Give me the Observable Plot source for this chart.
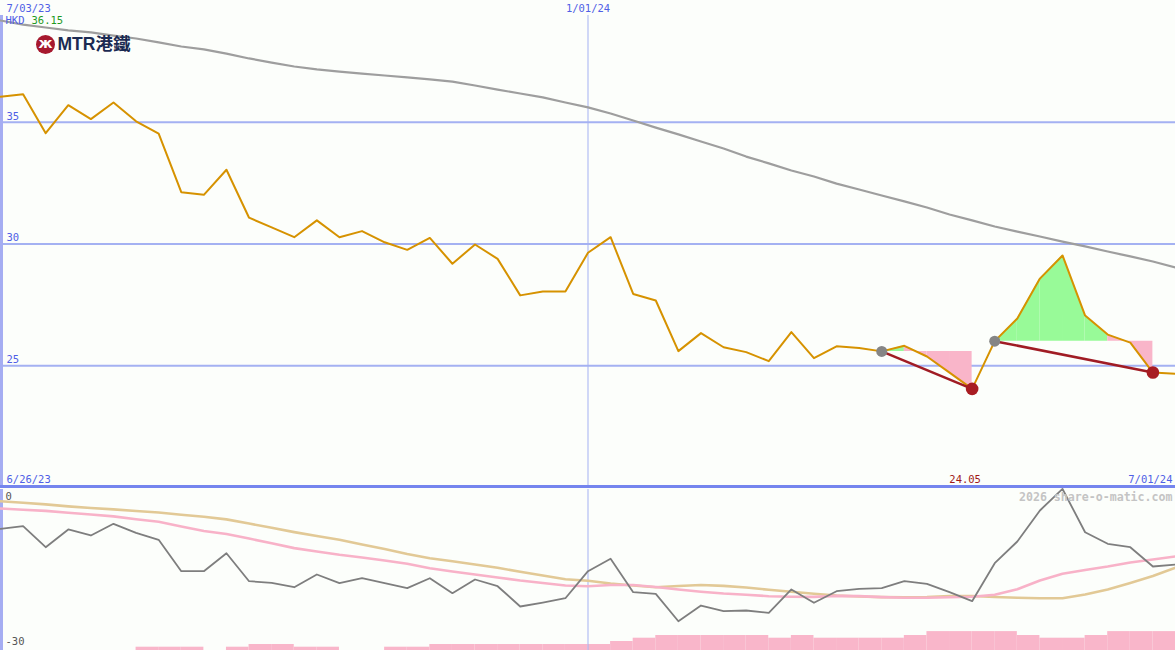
<!DOCTYPE html>
<html><head><meta charset="utf-8">
<script src="https://cdn.jsdelivr.net/npm/d3@7"></script>
<script src="https://cdn.jsdelivr.net/npm/@observablehq/plot@0.6"></script>
<style>
body{margin:0;background:#fcfefb;}
#wrap{position:relative;width:1175px;height:650px;overflow:hidden;background:#fcfefb;}
#topPanel{position:absolute;left:0;top:0;}
#botPanel{position:absolute;left:0;top:485px;border-top:3px solid #7585ee;}
svg{display:block}
</style></head><body><div id="wrap"><div id="topPanel"></div><div id="botPanel"></div></div>
<script>
// ---- data ----
const startDate = "2023-07-03";   // first weekly close
const markDate = "2024-01-01";    // vertical marker
const subStart = "2023-06-26";    // lower panel label
const priceLevels = [25, 30, 35];
const subLevels = [0, -30];
const currency = "HKD";
const watermark = "2026 share-o-matic.com";
const logoText = "MTR港鐵";

// weekly closing price (HKD)
const price = [36.05, 36.15, 34.55, 35.70, 35.13, 35.81, 35.04, 34.53, 32.13, 32.02,
  33.05, 31.08, 30.68, 30.28, 30.97, 30.28, 30.53, 30.07, 29.76, 30.25,
  29.19, 29.98, 29.39, 27.89, 28.05, 28.05, 29.64, 30.28, 27.95, 27.68,
  25.60, 26.34, 25.76, 25.56, 25.19, 26.38, 25.31, 25.80, 25.73, 25.59,
  25.82, 25.38, 24.72, 24.05, 26.01, 26.94, 28.58, 29.53, 27.06, 26.28,
  25.95, 24.72, 24.67];
// long moving average
const movingAvg = [39.18, 39.01, 38.89, 38.77, 38.69, 38.56, 38.44, 38.28, 38.11, 37.99,
  37.82, 37.62, 37.45, 37.29, 37.17, 37.08, 37.00, 36.92, 36.84, 36.76,
  36.67, 36.51, 36.34, 36.18, 36.02, 35.81, 35.61, 35.36, 35.07, 34.78,
  34.50, 34.21, 33.92, 33.59, 33.31, 33.02, 32.77, 32.48, 32.24, 31.99,
  31.75, 31.50, 31.21, 30.97, 30.72, 30.51, 30.31, 30.10, 29.90, 29.69,
  29.49, 29.28, 29.03];
// lower panel: relative performance (%)
const relPerf = [-7.32, -6.84, -10.75, -7.45, -8.57, -6.39, -8.07, -9.37, -15.22, -15.22,
  -11.87, -17.09, -17.39, -18.21, -15.84, -17.46, -16.53, -17.46, -18.39, -16.53,
  -19.32, -16.77, -18.02, -21.80, -21.06, -20.26, -15.22, -12.91, -19.14, -19.44,
  -24.54, -21.62, -22.68, -22.55, -22.98, -18.63, -21.11, -18.95, -18.50, -18.39,
  -17.09, -17.57, -19.14, -20.81, -13.73, -9.69, -3.91, 0.10, -7.96, -10.12,
  -10.75, -14.35, -13.98];
const relSlow = [-2.18, -2.46, -2.78, -3.15, -3.45, -3.71, -4.01, -4.30, -4.70, -5.09,
  -5.57, -6.34, -7.14, -7.94, -8.68, -9.35, -10.25, -11.09, -12.02, -12.82,
  -13.38, -13.98, -14.57, -15.34, -16.03, -16.73, -17.01, -17.52, -17.89, -18.21,
  -17.98, -17.80, -17.96, -18.26, -18.69, -19.04, -19.42, -19.75, -19.94, -20.05,
  -20.07, -20.03, -19.85, -19.85, -20.03, -20.16, -20.26, -20.26, -19.57, -18.63,
  -17.42, -16.12, -14.59];
const relFast = [-3.54, -3.76, -3.99, -4.32, -4.66, -5.01, -5.55, -6.02, -6.89, -7.73,
  -8.29, -9.13, -10.03, -10.92, -11.55, -12.17, -12.67, -13.23, -13.85, -14.68,
  -15.28, -15.84, -16.40, -16.96, -17.42, -17.89, -18.04, -17.80, -17.80, -18.17,
  -18.63, -19.04, -19.38, -19.62, -19.88, -19.99, -20.01, -19.83, -19.87, -20.05,
  -20.16, -20.18, -20.09, -19.98, -19.60, -18.60, -16.96, -15.71, -15.00, -14.35,
  -13.60, -13.04, -12.48];
// weekly volume (relative units), one per week interval
const volume = [0, 0, 0, 0, 0, 0, 1.1, 1.1, 1.1, 0,
  1.1, 2, 2, 1.1, 1.1, 0, 0, 1.1, 1.1, 2,
  2, 2, 2, 2, 2, 2, 2, 3, 4.1, 5,
  5, 5, 5, 5, 4.1, 5, 4.1, 4.1, 4.1, 4.1,
  5, 6.3, 6.3, 6.3, 6.3, 5, 4.1, 4.1, 5, 6.3,
  6.3, 6.3];
// swing patterns (indices of weekly closes)
const patterns = [{from: 39, to: 43}, {from: 44, to: 51}];

(function () {
const d0 = new Date(startDate + "T00:00:00Z");
const dates = price.map((_, i) => d3.utcDay.offset(d0, 7 * i));
const rows = dates.map((d, i) => ({date: d, price: price[i], ma: movingAvg[i], rel: relPerf[i], slow: relSlow[i], fast: relFast[i]}));
const xDomain = [dates[0], dates[dates.length - 1]];
const fmt = d3.utcFormat("%-m/%d/%y");
const mark = new Date(markDate + "T00:00:00Z");
const sub0 = new Date(subStart + "T00:00:00Z");
const lowIdx = d3.minIndex(price);

const areaRows = [];
patterns.forEach((p, k) => {
  const level = price[p.from];
  for (let j = p.from; j < p.to; j++) {
    const color = price[j + 1] >= level ? "#98fa98" : "#f9b5c9";
    const seg = k + "-" + j;
    areaRows.push({seg, date: dates[j], p: price[j], level, color});
    areaRows.push({seg, date: dates[j + 1], p: price[j + 1], level, color});
  }
});

const FONT = "DejaVu Sans Mono";
const BLUE = "#4f60e6";
const GRID = "#a4b1f2";

const topChart = Plot.plot({
  width: 1175, height: 488,
  marginTop: 0, marginBottom: 1, marginLeft: 0, marginRight: 0,
  x: {type: "utc", domain: xDomain, axis: null},
  y: {domain: [20, 40], axis: null},
  color: {type: "identity"},
  style: {background: "transparent", fontFamily: FONT, fontSize: "10px", overflow: "visible"},
  marks: [
    Plot.ruleY(priceLevels, {stroke: GRID, strokeWidth: 2}),
    Plot.ruleX([mark], {stroke: GRID, strokeWidth: 1, insetTop: 15}),
    Plot.ruleX([dates[0]], {stroke: "#a5adf2", strokeWidth: 5, insetTop: 15}),
    Plot.text(priceLevels, {y: d => d, frameAnchor: "left", dx: 6, dy: -6, text: d => String(d), textAnchor: "start", lineAnchor: "middle", fill: BLUE, fontSize: 10.5}),
    Plot.line(rows, {x: "date", y: "ma", stroke: "#9e9e9e", strokeWidth: 2.2}),
    Plot.areaY(areaRows, {x: "date", y1: "level", y2: "p", z: "seg", fill: "color", curve: "linear"}),
    Plot.line(rows, {x: "date", y: "price", stroke: "#d69200", strokeWidth: 2}),
    Plot.link(patterns, {x1: p => dates[p.from], y1: p => price[p.from], x2: p => dates[p.to], y2: p => price[p.to], stroke: "#a01c24", strokeWidth: 2.5}),
    Plot.dot(patterns, {x: p => dates[p.from], y: p => price[p.from], r: 5.5, fill: "#858585"}),
    Plot.dot(patterns, {x: p => dates[p.to], y: p => price[p.to], r: 6.3, fill: "#a81c22"}),
    Plot.text([dates[0]], {x: d => d, frameAnchor: "top", dx: 6, dy: 8, text: d => fmt(d), textAnchor: "start", lineAnchor: "middle", fill: BLUE, fontSize: 10.5}),
    Plot.text([mark], {x: d => d, frameAnchor: "top", dy: 8, text: d => fmt(d), textAnchor: "middle", lineAnchor: "middle", fill: BLUE, fontSize: 10.5}),
    Plot.text([currency], {frameAnchor: "top-left", dx: 5, dy: 20, text: d => d, textAnchor: "start", lineAnchor: "middle", fill: BLUE, fontSize: 10.5}),
    Plot.text([d3.max(price)], {frameAnchor: "top-left", dx: 31, dy: 20, text: d => d.toFixed(2), textAnchor: "start", lineAnchor: "middle", fill: "#1f9a1f", fontSize: 10.5}),
    Plot.dot([0], {frameAnchor: "top-left", dx: 45, dy: 44, r: 9.5, fill: "#a6192e"}),
    Plot.text(["ж"], {frameAnchor: "top-left", dx: 45, dy: 43, text: d => d, textAnchor: "middle", lineAnchor: "middle", fill: "white", fontSize: 14, fontWeight: "bold", fontFamily: "DejaVu Sans"}),
    Plot.text([logoText], {frameAnchor: "top-left", dx: 57, dy: 44, text: d => d, textAnchor: "start", lineAnchor: "middle", fill: "#1b2a52", fontSize: 17.5, fontWeight: "bold", fontFamily: "Liberation Sans, Noto Sans CJK TC"}),
    Plot.text([sub0], {frameAnchor: "bottom-left", dx: 6, dy: -8, text: d => fmt(d), textAnchor: "start", lineAnchor: "middle", fill: BLUE, fontSize: 10.5}),
    Plot.text([lowIdx], {x: i => dates[i], frameAnchor: "bottom", dx: -7, dy: -8, text: i => price[i].toFixed(2), textAnchor: "middle", lineAnchor: "middle", fill: "#a01818", fontSize: 10.5}),
    Plot.text([xDomain[1]], {frameAnchor: "bottom-right", dx: -3, dy: -8, text: d => fmt(d), textAnchor: "end", lineAnchor: "middle", fill: BLUE, fontSize: 10.5})
  ]
});
document.getElementById("topPanel").append(topChart);

const volPx = 3 * 30 / 161; // volume unit height in lower-panel units
const volRows = volume.map((v, i) => ({x1: dates[i], x2: dates[i + 1], v}));
const botChart = Plot.plot({
  width: 1175, height: 162,
  marginTop: 1, marginBottom: 0, marginLeft: 0, marginRight: 0,
  x: {type: "utc", domain: xDomain, axis: null},
  y: {domain: [-30, 0], axis: null},
  style: {background: "transparent", fontFamily: FONT, fontSize: "10px", overflow: "visible"},
  marks: [
    Plot.rectY(volRows.filter(d => d.v > 0), {x1: "x1", x2: "x2", y1: -30, y2: d => -30 + d.v * volPx, fill: "#f9b6ca", inset: 0}),
    Plot.ruleX([mark], {stroke: GRID, strokeWidth: 1}),
    Plot.ruleX([dates[0]], {stroke: "#a5adf2", strokeWidth: 5}),
    Plot.line(rows, {x: "date", y: "slow", stroke: "#e2c996", strokeWidth: 2.6}),
    Plot.line(rows, {x: "date", y: "fast", stroke: "#f8b2c8", strokeWidth: 2.6}),
    Plot.line(rows, {x: "date", y: "rel", stroke: "#7e7e7e", strokeWidth: 1.8}),
    Plot.text([subLevels[0]], {frameAnchor: "top-left", dx: 5, dy: 7, text: d => String(d), textAnchor: "start", lineAnchor: "middle", fill: "#555", fontSize: 10.5}),
    Plot.text([subLevels[1]], {frameAnchor: "bottom-left", dx: 5, dy: -9, text: d => String(d), textAnchor: "start", lineAnchor: "middle", fill: "#555", fontSize: 10.5}),
    Plot.text([watermark], {frameAnchor: "top-right", dx: -3, dy: 8, text: d => d, textAnchor: "end", lineAnchor: "middle", fill: "#c4c4c4", fontSize: 11.6, fontWeight: "bold"})
  ]
});
document.getElementById("botPanel").append(botChart);
})();
</script>
</body></html>
